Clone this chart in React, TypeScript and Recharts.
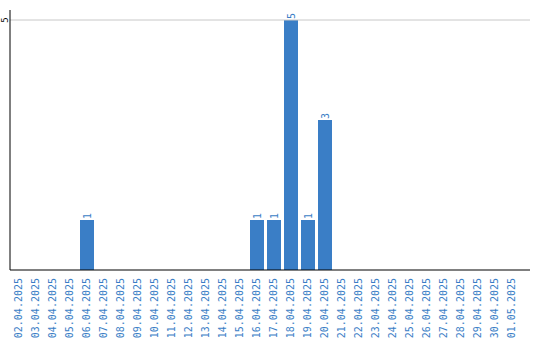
import { BarChart, Bar, XAxis, YAxis, ReferenceLine } from "recharts";

const dates = [
  "02.04.2025", "03.04.2025", "04.04.2025", "05.04.2025", "06.04.2025",
  "07.04.2025", "08.04.2025", "09.04.2025", "10.04.2025", "11.04.2025",
  "12.04.2025", "13.04.2025", "14.04.2025", "15.04.2025", "16.04.2025",
  "17.04.2025", "18.04.2025", "19.04.2025", "20.04.2025", "21.04.2025",
  "22.04.2025", "23.04.2025", "24.04.2025", "25.04.2025", "26.04.2025",
  "27.04.2025", "28.04.2025", "29.04.2025", "30.04.2025", "01.05.2025",
];
const counts = [
  0, 0, 0, 0, 1, 0, 0, 0, 0, 0,
  0, 0, 0, 0, 1, 1, 5, 1, 3, 0,
  0, 0, 0, 0, 0, 0, 0, 0, 0, 0,
];
const yTicks = [5];

const BLUE = "#3a7ec6";
const FONT = "DejaVu Sans Mono";

const data = dates.map((date, i) => ({ date, count: counts[i] }));

function DateTick({ x, y, payload }: any) {
  return (
    <text
      x={x}
      y={y}
      transform={`rotate(-90 ${x} ${y})`}
      textAnchor="end"
      dominantBaseline="central"
      fill={BLUE}
      fontSize={10}
      fontFamily={FONT}
    >
      {payload.value}
    </text>
  );
}

function CountTick({ x, y, payload }: any) {
  const cx = x + 3;
  return (
    <text
      x={cx}
      y={y}
      transform={`rotate(-90 ${cx} ${y})`}
      textAnchor="middle"
      dominantBaseline="central"
      fill="#000"
      fontSize={9}
      fontFamily={FONT}
    >
      {payload.value}
    </text>
  );
}

function ValueLabel({ x, y, width, value }: any) {
  if (!value) return null;
  const cx = x + width / 2;
  const cy = y - 1;
  return (
    <text
      x={cx}
      y={cy}
      transform={`rotate(-90 ${cx} ${cy})`}
      textAnchor="start"
      dominantBaseline="central"
      fill={BLUE}
      fontSize={10}
      fontFamily={FONT}
    >
      {value}
    </text>
  );
}

export default function App() {
  return (
    <div style={{ position: "absolute", left: 0, top: 0, background: "#fff" }}>
      <BarChart
        width={540}
        height={340}
        data={data}
        margin={{ top: 10, right: 10, bottom: 0, left: 0 }}
        barSize={14}
      >
        {/* single grid line at the top tick */}
        {yTicks.map((t) => (
          <ReferenceLine key={t} y={t} stroke="#c8c8c8" />
        ))}
        <XAxis
          dataKey="date"
          interval={0}
          height={70}
          tickLine={false}
          stroke="#000"
          padding={{ left: 0, right: 10 }}
          tick={<DateTick />}
        />
        <YAxis
          width={10}
          domain={[0, 5.2]}
          ticks={yTicks}
          tickLine={false}
          stroke="#000"
          tick={<CountTick />}
        />
        <Bar
          dataKey="count"
          fill={BLUE}
          isAnimationActive={false}
          label={<ValueLabel />}
        />
      </BarChart>
    </div>
  );
}
